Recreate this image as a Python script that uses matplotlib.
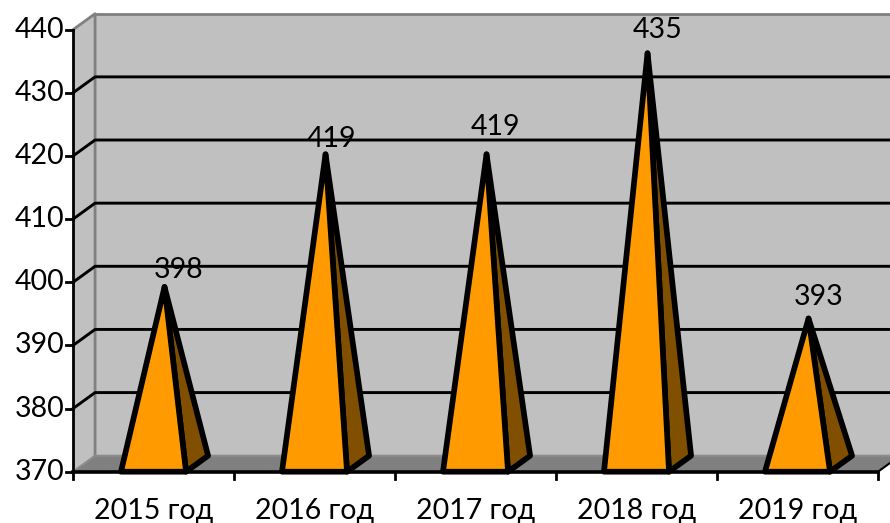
import matplotlib
matplotlib.use('Agg')
import matplotlib.pyplot as plt
from matplotlib.patches import Polygon

plt.rcParams['font.family'] = ['Lato', 'DejaVu Sans']

# data
years = ['2015 год', '2016 год', '2017 год', '2018 год', '2019 год']
values = [398, 419, 419, 435, 393]
y_ticks = [370, 380, 390, 400, 410, 420, 430, 440]

# label offset from the apex, in px
label_dx = [14, 6, 9, 10, 10]
label_dy = [17, 15, 27, 23, 21]

# 3d depth of the chart, in data units
dx = 0.137
dy = 2.53
half_w = 0.202
font_size = 20.5

fig = plt.figure(figsize=(8.9, 5.23), dpi=100)
ax = fig.add_axes([73 / 890, 1 - 471.7 / 523, 805 / 890, 442 / 523])
ax.set_xlim(-0.5, 4.5)
ax.set_ylim(370, 440)
ax.axis('off')

x0, x1 = -0.5, 4.5
y0, y1 = 370, 440
wall_right = x1 + dx

# walls and floor
ax.add_patch(Polygon([(x0 + dx, y0 + dy), (wall_right, y0 + dy), (wall_right, y1 + dy), (x0 + dx, y1 + dy)],
                     fc='#c0c0c0', ec='none', clip_on=False, zorder=1))
ax.add_patch(Polygon([(x0, y0), (x0 + dx, y0 + dy), (x0 + dx, y1 + dy), (x0, y1)],
                     fc='#c0c0c0', ec='none', clip_on=False, zorder=1))
ax.add_patch(Polygon([(x0, y0), (x1, y0), (wall_right, y0 + dy), (x0 + dx, y0 + dy)],
                     fc='#808080', ec='none', clip_on=False, zorder=1))
ax.plot([x0, x0 + dx, x0 + dx], [y1, y1 + dy, y0 + dy], color='#808080', lw=2, clip_on=False, zorder=2)
ax.plot([x0 + dx, wall_right], [y1 + dy, y1 + dy], color='#808080', lw=2, clip_on=False, zorder=2)
ax.plot([x0, x0 + dx, wall_right], [y0, y0 + dy, y0 + dy], color='#8c8c8c', lw=1.5, clip_on=False, zorder=2)
ax.plot([x1, wall_right], [y0, y0 + dy], color='black', lw=1.5, clip_on=False, zorder=2)

# grid lines
for t in y_ticks[1:-1]:
    ax.plot([x0, x0 + dx, wall_right], [t, t + dy, t + dy], color='black', lw=2.1, clip_on=False, zorder=3)

# pyramids
for i, v in enumerate(values):
    left = i - half_w
    right = i + half_w
    apex = (i + dx / 2, v + dy / 2)
    ax.add_patch(Polygon([(right, y0), (right + dx, y0 + dy), apex], fc='#804f00', ec='black',
                         lw=4.1, joinstyle='round', clip_on=False, zorder=4))
    ax.add_patch(Polygon([(left, y0), (right, y0), apex], fc='#ff9a00', ec='black',
                         lw=4.1, joinstyle='round', clip_on=False, zorder=5))
    ax.annotate(str(v), xy=apex, xytext=(label_dx[i] * 0.72, label_dy[i] * 0.72), textcoords='offset points',
                ha='center', va='center', fontsize=font_size, color='black', zorder=6, annotation_clip=False)

# axes lines and ticks
ax.plot([x0, x0], [y0, y1], color='black', lw=2, clip_on=False, zorder=6)
ax.plot([x0, x1], [y0, y0], color='black', lw=2.6, clip_on=False, zorder=6)

tick_w = 7 / 161
tick_h = 7 / (442 / 70)
for t in y_ticks:
    ax.plot([x0 - tick_w, x0], [t, t], color='black', lw=2, clip_on=False, zorder=6)
    ax.text(x0 - tick_w - 0.012, t, str(t), ha='right', va='center', fontsize=font_size, clip_on=False)
for k in range(len(years) + 1):
    ax.plot([x0 + k, x0 + k], [y0 - tick_h, y0], color='black', lw=2, clip_on=False, zorder=6)
for i, name in enumerate(years):
    ax.text(i, y0 - 6.2, name, ha='center', va='center', fontsize=font_size, clip_on=False)

fig.savefig('out.png', dpi=100)
